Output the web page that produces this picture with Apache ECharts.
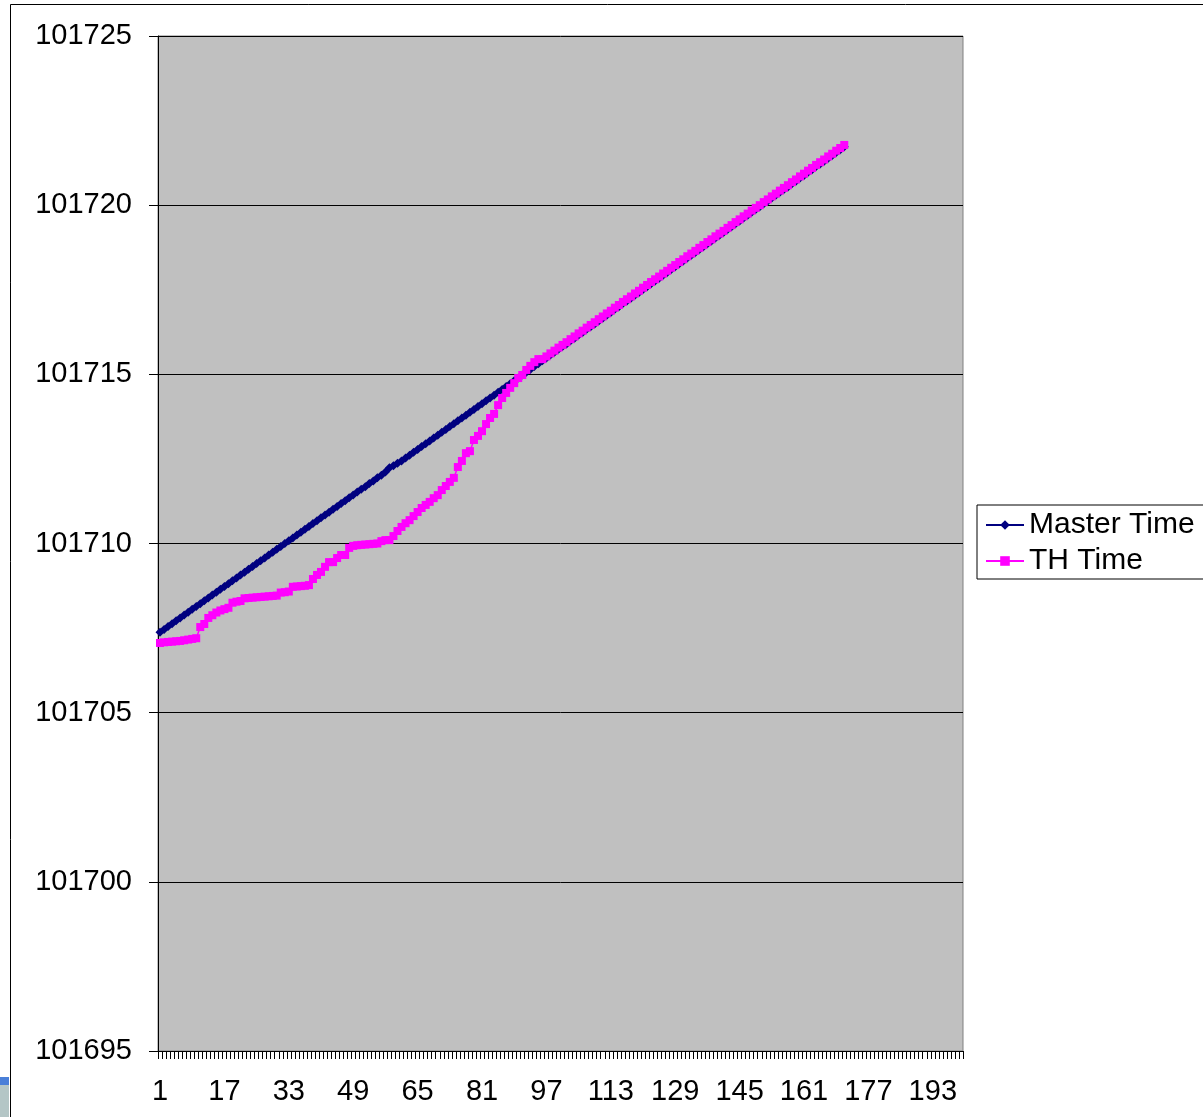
<!DOCTYPE html>
<html>
<head>
<meta charset="utf-8">
<script src="https://cdn.jsdelivr.net/npm/echarts@6/dist/echarts.min.js"></script>
<style>html,body{margin:0;padding:0;background:#fff;}#c{width:1203px;height:1117px;}</style>
</head>
<body>
<div id="c"></div>
<script>
// Category labels 1..200
const categories = [];
for (let i = 1; i <= 200; i++) categories.push(String(i));

const yTicks = [101695, 101700, 101705, 101710, 101715, 101720, 101725];

const masterTime = [
101707.38,101707.46,101707.55,101707.63,101707.72,101707.80,101707.89,101707.97,101708.06,101708.14,
101708.22,101708.31,101708.39,101708.48,101708.56,101708.65,101708.73,101708.81,101708.90,101708.98,
101709.07,101709.15,101709.24,101709.32,101709.41,101709.49,101709.57,101709.66,101709.74,101709.83,
101709.91,101710.00,101710.08,101710.16,101710.25,101710.33,101710.42,101710.50,101710.59,101710.67,
101710.76,101710.84,101710.92,101711.01,101711.09,101711.18,101711.26,101711.35,101711.43,101711.52,
101711.60,101711.68,101711.77,101711.85,101711.94,101712.02,101712.11,101712.24,101712.30,101712.37,
101712.44,101712.53,101712.61,101712.70,101712.78,101712.87,101712.95,101713.03,101713.12,101713.20,
101713.29,101713.37,101713.46,101713.54,101713.63,101713.71,101713.79,101713.88,101713.96,101714.05,
101714.13,101714.22,101714.30,101714.38,101714.47,101714.55,101714.64,101714.72,101714.81,101714.89,
101714.98,101715.06,101715.14,101715.23,101715.31,101715.40,101715.48,101715.57,101715.65,101715.74,
101715.82,101715.90,101715.99,101716.07,101716.16,101716.24,101716.33,101716.41,101716.49,101716.58,
101716.66,101716.75,101716.83,101716.92,101717.00,101717.09,101717.17,101717.25,101717.34,101717.42,
101717.51,101717.59,101717.68,101717.76,101717.84,101717.93,101718.01,101718.10,101718.18,101718.27,
101718.35,101718.44,101718.52,101718.60,101718.69,101718.77,101718.86,101718.94,101719.03,101719.11,
101719.19,101719.28,101719.36,101719.45,101719.53,101719.62,101719.70,101719.79,101719.87,101719.95,
101720.04,101720.12,101720.21,101720.29,101720.38,101720.46,101720.54,101720.63,101720.71,101720.80,
101720.88,101720.97,101721.05,101721.14,101721.22,101721.30,101721.39,101721.47,101721.56,101721.64,
101721.73
];

const thTime = [
101707.06,101707.08,101707.09,101707.10,101707.11,101707.12,101707.14,101707.16,101707.18,101707.20,
101707.53,101707.62,101707.80,101707.88,101707.96,101708.02,101708.06,101708.10,101708.25,101708.28,
101708.30,101708.38,101708.39,101708.40,101708.41,101708.42,101708.43,101708.44,101708.45,101708.46,
101708.55,101708.56,101708.58,101708.72,101708.73,101708.74,101708.75,101708.77,101708.95,101709.07,
101709.16,101709.31,101709.45,101709.45,101709.57,101709.66,101709.66,101709.87,101709.93,101709.95,
101709.96,101709.97,101709.98,101709.99,101710.00,101710.07,101710.10,101710.10,101710.22,101710.37,
101710.49,101710.60,101710.69,101710.81,101710.93,101711.05,101711.14,101711.23,101711.34,101711.43,
101711.58,101711.70,101711.82,101711.94,101712.26,101712.44,101712.67,101712.73,101713.06,101713.18,
101713.32,101713.53,101713.71,101713.83,101714.09,101714.30,101714.45,101714.60,101714.74,101714.89,
101714.98,101715.13,101715.25,101715.36,101715.45,101715.45,101715.53,101715.62,101715.70,101715.79,
101715.87,101715.95,101716.04,101716.12,101716.21,101716.29,101716.38,101716.46,101716.54,101716.63,
101716.71,101716.80,101716.88,101716.97,101717.05,101717.14,101717.22,101717.30,101717.39,101717.47,
101717.56,101717.64,101717.73,101717.81,101717.89,101717.98,101718.06,101718.15,101718.23,101718.32,
101718.40,101718.49,101718.57,101718.65,101718.74,101718.82,101718.91,101718.99,101719.08,101719.16,
101719.24,101719.33,101719.41,101719.50,101719.58,101719.67,101719.75,101719.84,101719.92,101720.00,
101720.09,101720.17,101720.26,101720.34,101720.43,101720.51,101720.59,101720.68,101720.76,101720.85,
101720.93,101721.02,101721.10,101721.19,101721.27,101721.35,101721.44,101721.52,101721.61,101721.69,
101721.78
];

const FONT = 'Liberation Sans, Arial, sans-serif';
const chart = echarts.init(document.getElementById('c'), null, {renderer: 'canvas'});
chart.setOption({
  animation: false,
  backgroundColor: '#ffffff',
  graphic: [
    {type: 'rect', shape: {x: 10.5, y: 4.5, width: 1300, height: 1300}, style: {fill: 'none', stroke: '#000', lineWidth: 1}, silent: true},
    {type: 'rect', shape: {x: 0, y: 1077, width: 9, height: 8}, style: {fill: '#4a7fd8'}, silent: true},
    {type: 'rect', shape: {x: 0, y: 1085, width: 9, height: 32}, style: {fill: '#b4c6c6'}, silent: true}
  ],
  grid: {
    left: 158, right: 240, top: 36, bottom: 66,
    show: true, backgroundColor: '#C0C0C0', borderColor: '#808080', borderWidth: 1
  },
  legend: {
    orient: 'vertical',
    left: 977, top: 505,
    backgroundColor: '#ffffff',
    borderColor: '#000', borderWidth: 1,
    padding: [5, 10, 3, 8],
    itemWidth: 38, itemHeight: 12, itemGap: 6,
    textStyle: {fontFamily: FONT, fontSize: 30, color: '#000'},
    data: ['Master Time', 'TH Time']
  },
  xAxis: {
    type: 'category',
    data: categories,
    boundaryGap: true,
    axisLine: {lineStyle: {color: '#000', width: 1}},
    axisTick: {show: true, interval: 0, length: 8, lineStyle: {color: '#000'}},
    axisLabel: {interval: 15, margin: 26, fontFamily: FONT, fontSize: 29, color: '#000'},
    splitLine: {show: false}
  },
  yAxis: {
    type: 'value',
    min: yTicks[0], max: yTicks[yTicks.length - 1], interval: 5,
    axisLine: {show: true, lineStyle: {color: '#000', width: 1}},
    axisTick: {show: true, length: 9, lineStyle: {color: '#000'}},
    axisLabel: {margin: 26, fontFamily: FONT, fontSize: 29, color: '#000', formatter: function (v) { return String(v); }},
    splitLine: {show: true, lineStyle: {color: '#000', width: 1}}
  },
  series: [
    {
      name: 'Master Time', type: 'line', data: masterTime,
      symbol: 'diamond', symbolSize: 9, showAllSymbol: true,
      itemStyle: {color: '#000080'},
      lineStyle: {color: '#000080', width: 4}
    },
    {
      name: 'TH Time', type: 'line', data: thTime,
      symbol: 'rect', symbolSize: 8, showAllSymbol: true,
      itemStyle: {color: '#FF00FF'},
      lineStyle: {color: '#FF00FF', width: 1.5}
    }
  ]
});
</script>
</body>
</html>
